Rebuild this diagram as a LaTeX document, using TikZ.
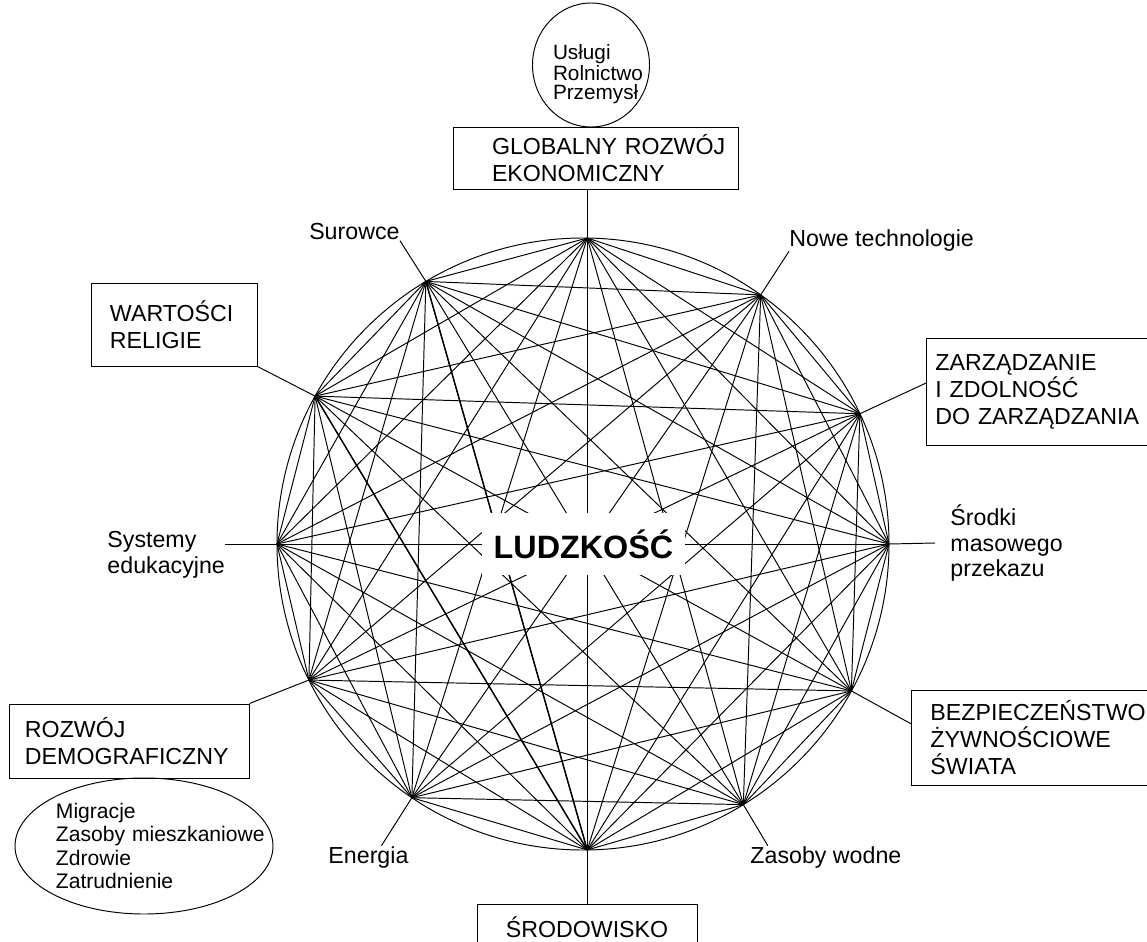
\documentclass[tikz,border=0pt]{standalone}
\usepackage{fontspec}
\setmainfont{Liberation Sans}
\usetikzlibrary{shapes.geometric}

\begin{document}
\begin{tikzpicture}[x=0.2mm, y=-0.2mm, line width=0.55pt,
		box/.style={draw, rectangle, align=left, inner ysep=0pt,
			font=\fontsize{13.2}{15.3}\selectfont},
		lbl/.style={align=left, inner sep=0pt,
			font=\fontsize{13.2}{14.5}\selectfont},
		oval/.style={draw, ellipse, align=left, inner sep=0pt}]
	\useasboundingbox (0,0) rectangle (1147,942);
	\coordinate (c) at (583,544);
	\draw (c) circle (61.2mm);
	\foreach \a [count=\k from 0] in {89.2,54.5,25.2,0,-28.7,-58.4,-89.2,-124,-153.6,180,151.1,120.9}
		\coordinate (p\k) at ([shift={(\a:61.2mm)}]c);
	\foreach \i in {0,...,11}
		\foreach \j in {0,...,11}
			{\ifnum\i<\j \draw (p\i) -- (p\j); \fi}
	\draw[line width=0.8pt] (p10) -- (p6) (p11) -- (p6);
	\node[fill=white, minimum width=40.6mm, minimum height=12.4mm, inner sep=0pt,
		font=\fontsize{18.4}{20}\selectfont\bfseries] (ludz) at (583.5,544) {LUDZKOŚĆ};

	\node[box, inner xsep=7.8mm, text width=41.4mm, minimum height=12.4mm] (glob) at (595.5,158)
		{\mbox{GLOBALNY ROZWÓJ}\\EKONOMICZNY};
	\node[oval, text width=15.2mm, text height=6.6mm, minimum width=23.4mm, minimum height=24.8mm,
		font=\fontsize{11.8}{10.4}\selectfont] (sektory) at (591,65)
		{Usługi\\Rolnictwo\\Przemysł};
	\node[box, anchor=west, inner xsep=1.8mm, text width=44.4mm, minimum height=21.4mm] (zarz) at (926,391.5)
		{ZARZĄDZANIE\\I ZDOLNOŚĆ\\DO ZARZĄDZANIA};
	\node[box, anchor=west, inner xsep=3.8mm, text width=44.4mm, minimum height=19mm] (bezp) at (911,737.5)
		{BEZPIECZEŃSTWO\\ŻYWNOŚCIOWE\\ŚWIATA};
	\node[box, inner xsep=0pt, align=center, minimum width=44mm, minimum height=9.2mm] (srod) at (587,927)
		{ŚRODOWISKO};
	\node[box, inner xsep=3.2mm, text width=41.6mm, minimum height=14.8mm] (demo) at (129,741)
		{ROZWÓJ\\DEMOGRAFICZNY};
	\node[oval, text width=35.2mm, minimum width=51.6mm, minimum height=27.2mm,
		font=\fontsize{12}{13.2}\selectfont] (ludnosc) at (144,846)
		{Migracje\\\mbox{Zasoby mieszkaniowe}\\Zdrowie\\Zatrudnienie};
	\node[box, inner xsep=3.8mm, text width=25.6mm, minimum height=16.6mm] (wart) at (174,324.5)
		{WARTOŚCI\\RELIGIE};

	\node[lbl, anchor=east] (sur) at (400,232) {Surowce};
	\node[lbl, anchor=west] (nowe) at (789,240) {Nowe technologie};
	\node[lbl, anchor=west] (edu) at (107,555) {Systemy\\edukacyjne};
	\node[lbl, anchor=west, inner xsep=3mm] (media) at (935,543) {Środki\\masowego\\przekazu};
	\node[lbl, anchor=west] (energia) at (328,857) {Energia};
	\node[lbl, anchor=west] (woda) at (750,857) {Zasoby wodne};

	\draw (p0) -- (p0 |- glob.south);
	\draw (p1) -- (nowe.south west);
	\draw (p2) -- (zarz.176);
	\draw (p3) -- (media.west);
	\draw (p4) -- (bezp.174);
	\draw (p5) -- (woda.169);
	\draw (p6) -- (p6 |- srod.north);
	\draw (p7) -- (energia.41);
	\draw (p8) -- (demo.north east);
	\draw (p9) -- (p9 -| edu.east);
	\draw (p10) -- (wart.south east);
	\draw (p11) -- (sur.south east);
\end{tikzpicture}
\end{document}
